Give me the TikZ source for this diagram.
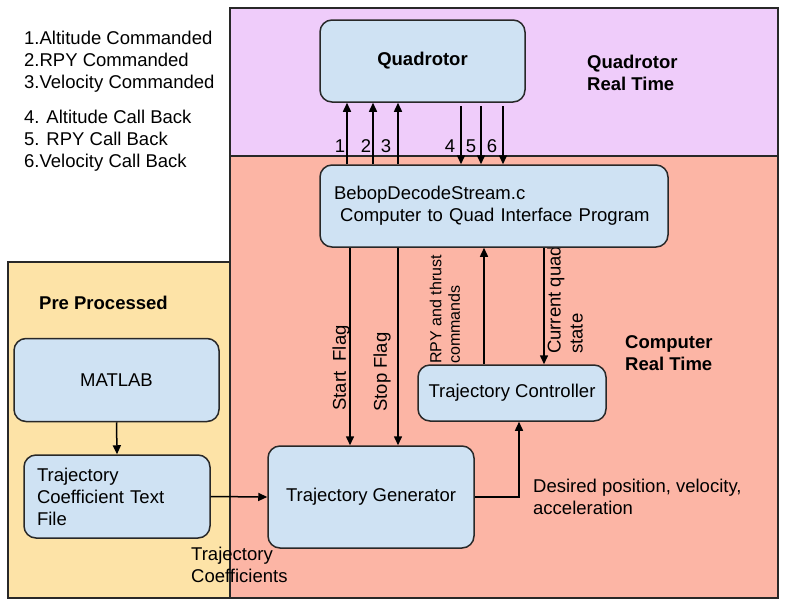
\documentclass[tikz,border=0pt]{standalone}
\usepackage{fontspec}
\setmainfont{Liberation Sans}
\usetikzlibrary{arrows.meta}
\definecolor{purp}{RGB}{239,204,250}
\definecolor{salm}{RGB}{252,181,165}
\definecolor{yel}{RGB}{253,227,167}
\definecolor{boxb}{RGB}{207,226,243}
\definecolor{edge}{RGB}{40,40,40}
\tikzset{
  region/.style={draw=edge, line width=1.5pt},
  blk/.style={draw=edge, fill=boxb, line width=1.5pt, rounded corners=12pt, inner sep=4pt, font=\fontsize{18.5}{22}\selectfont},
  arr/.style={draw=black, line width=1.5pt, -{Triangle[length=9pt,width=8pt]}},
  txt/.style={font=\fontsize{18.5}{22}\selectfont, inner sep=0pt},
  btxt/.style={font=\fontsize{18.5}{22}\selectfont\bfseries, inner sep=0pt},
  stxt/.style={font=\fontsize{16}{18.5}\selectfont, inner sep=0pt}
}
\begin{document}
\begin{tikzpicture}[x=1pt,y=-1pt]
\useasboundingbox (0,0) rectangle (800,600);
% regions
\draw[region, fill=yel] (8,262) rectangle (230,598);
\draw[region, fill=salm] (230,156) rectangle (778,598);
\draw[region, fill=purp] (230,8) rectangle (778,156);

% legend
\node[txt, anchor=north west, align=left] (leg1) at (24,31) {1.Altitude Commanded\\2.RPY Commanded\\3.Velocity Commanded};
\node[txt, anchor=north west, align=left] (leg2) at (24,110) {4. Altitude Call Back\\5. RPY Call Back\\6.Velocity Call Back};

% region titles
\node[btxt, anchor=west, align=left] (qrt) at (587,73) {Quadrotor\\Real Time};
\node[btxt, anchor=west, align=left] (crt) at (625,353) {Computer\\Real Time};
\node[btxt, anchor=west] (pp) at (39,303) {Pre Processed};

% label partly hidden by the interface box
\node[txt, rotate=90, anchor=west, align=left] (cqs) at (565,354) {Current quad\\state};

% boxes
\node[blk, minimum width=205pt, minimum height=82pt, font=\fontsize{18.5}{22}\selectfont\bfseries] (Q) at (422.5,61) {Quadrotor};
\node[blk, minimum width=348pt, minimum height=82pt, text width=320pt, align=left] (B) at (494,206) {BebopDecodeStream.c\\\ Computer to Quad Interface Program};
\node[blk, minimum width=188pt, minimum height=56pt] (TC) at (512,393) {Trajectory Controller};
\node[blk, minimum width=206pt, minimum height=102pt] (TG) at (371,497) {Trajectory Generator};
\node[blk, minimum width=205pt, minimum height=83pt] (M) at (116.5,380) {MATLAB};
\node[blk, minimum width=186pt, minimum height=83pt, text width=160pt, align=left] (TF) at (117,496.5) {Trajectory\\Coefficient Text\\File};

% x positions of the vertical links
\coordinate (c1) at (347,0);
\coordinate (c2) at (373,0);
\coordinate (c3) at (398,0);
\coordinate (c4) at (461,0);
\coordinate (c5) at (481,0);
\coordinate (c6) at (503,0);
\coordinate (qb) at (0,106);
\coordinate (cs) at (350,0);
\coordinate (cp) at (398,0);
\coordinate (cr) at (484,0);
\coordinate (cq) at (544,0);
\coordinate (cd) at (519,0);

% quad links
\draw[arr] (B.north -| c1) -- (Q.south -| c1);
\draw[arr] (B.north -| c2) -- (Q.south -| c2);
\draw[arr] (B.north -| c3) -- (Q.south -| c3);
\draw[arr] (qb -| c4) -- (B.north -| c4);
\draw[arr] (qb -| c5) -- (B.north -| c5);
\draw[arr] (qb -| c6) -- (B.north -| c6);
\node[txt] (n1) at (340,146) {1};
\node[txt] (n2) at (366,146) {2};
\node[txt] (n3) at (386,146) {3};
\node[txt] (n4) at (450,146) {4};
\node[txt] (n5) at (471,146) {5};
\node[txt] (n6) at (492,146) {6};

% interface links
\draw[arr] (B.south -| cs) -- (TG.north -| cs);
\draw[arr] (B.south -| cp) -- (TG.north -| cp);
\draw[arr] (TC.north -| cr) -- (B.south -| cr);
\draw[arr] (B.south -| cq) -- (TC.north -| cq);
\node[txt, rotate=90] (sf) at (341,368) {Start\ \ Flag};
\node[txt, rotate=90] (spf) at (382,372) {Stop Flag};
\node[stxt, rotate=90, anchor=west, align=left] (rpy) at (445,364) {RPY and thrust\\commands};

% preprocessing links
\draw[arr] (M.south) -- (TF.north);
\draw[arr] (TF.east) -- (TG.west);
\node[txt, anchor=west, align=left] (tcl) at (191,565) {Trajectory\\Coefficients};

% generator to controller
\draw[arr] (TG.east) -| (TC.south -| cd);
\node[txt, anchor=west, align=left] (dpl) at (533,497) {Desired position, velocity,\\acceleration};
\end{tikzpicture}
\end{document}
